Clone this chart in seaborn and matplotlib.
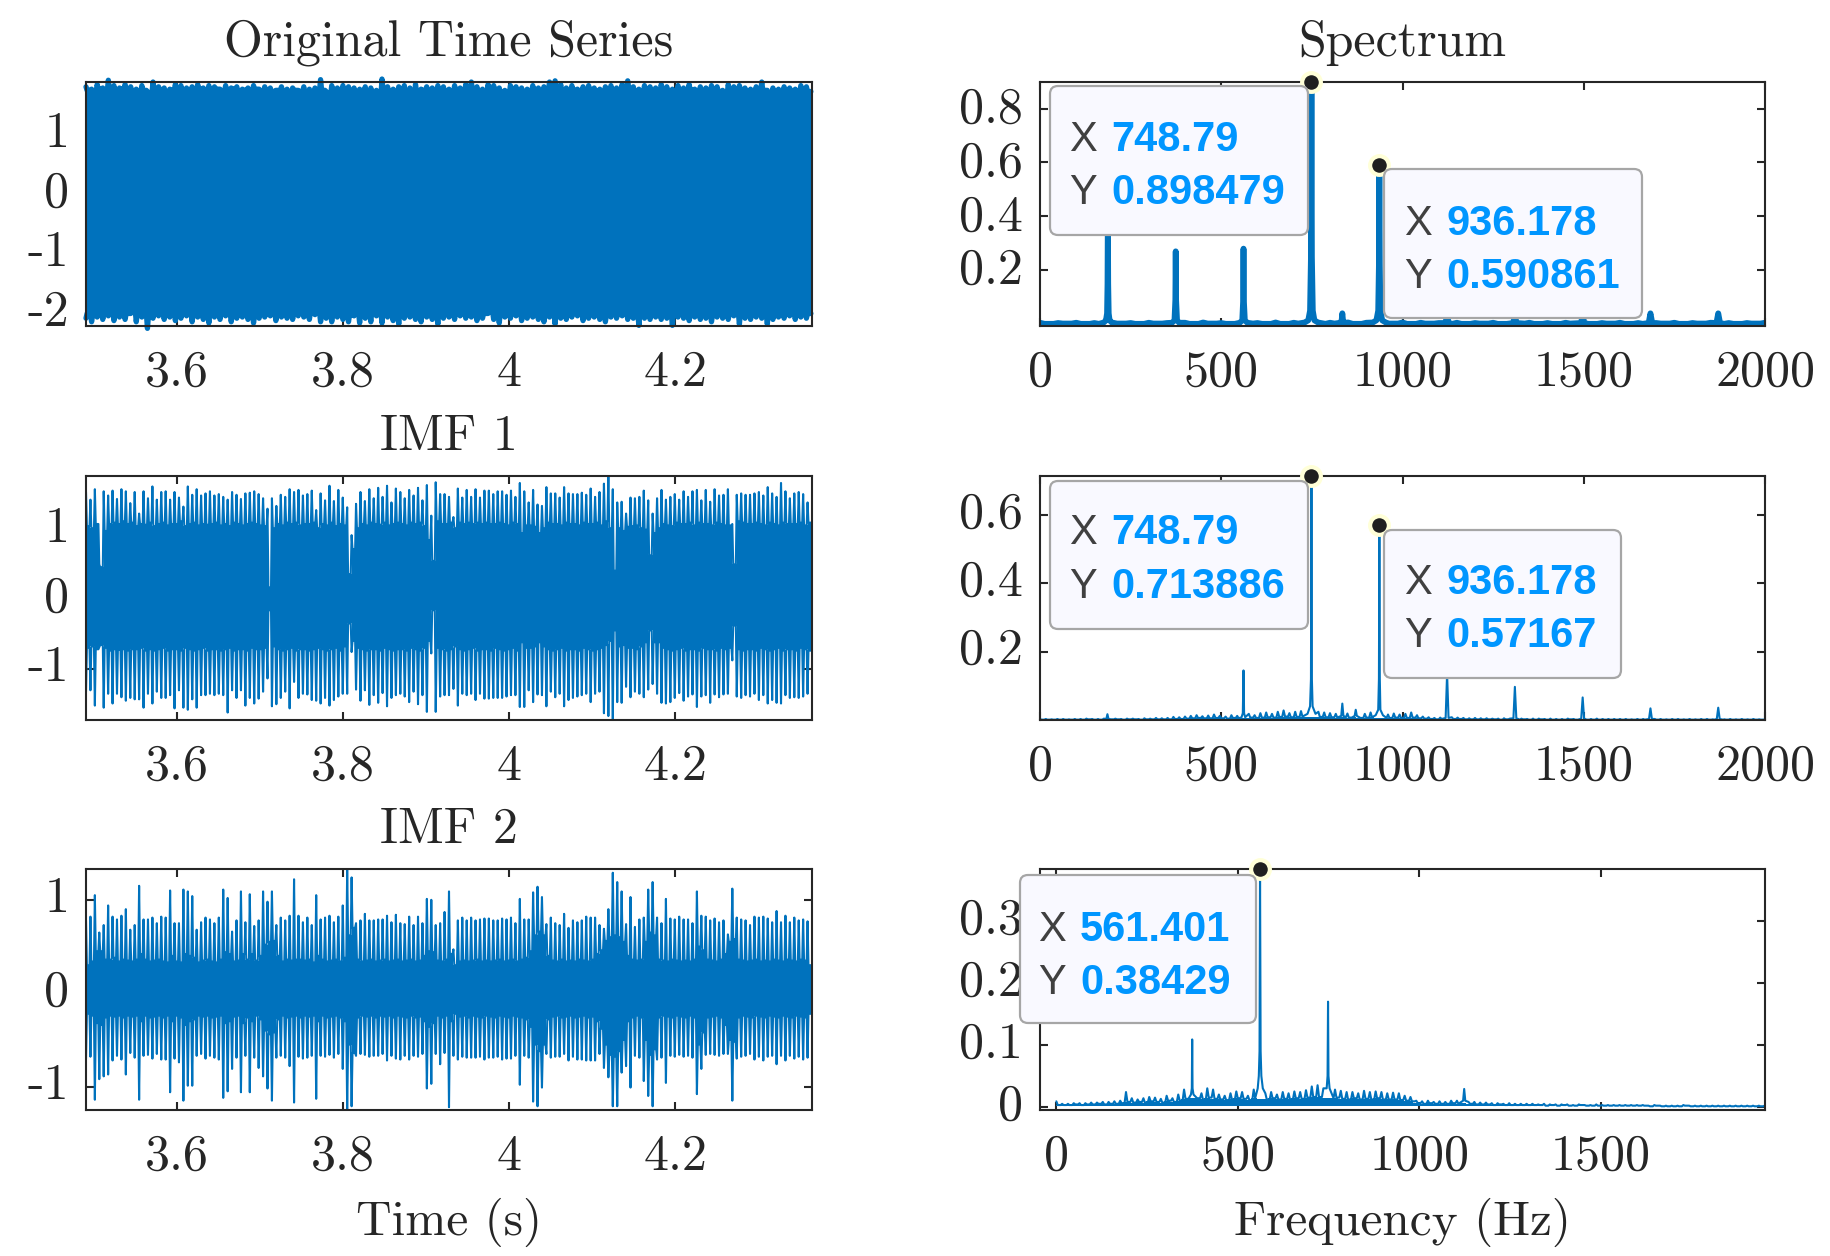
import numpy as np
import pandas as pd
import matplotlib
matplotlib.use('Agg')
import matplotlib.pyplot as plt
from matplotlib.patches import FancyBboxPatch
from matplotlib.transforms import IdentityTransform, ScaledTranslation
import seaborn as sns

W, H = 1830, 1256
BLUE = '#0072BD'
DARK = '#262626'

# ---- time domain, values read per impact off the picture ----
orig_top = [1.76,1.72,1.80,1.74,1.87,1.78,1.74,1.80,1.76,1.72,1.78,1.68,1.84,1.76,1.74,1.72,1.80,1.78,1.74,1.76,
            1.80,1.74,1.78,1.76,1.72,1.78,1.74,1.76,1.72,1.74,1.78,1.72,1.76,1.74,1.70,1.76,1.72,1.74,1.70,1.76,
            1.72,1.74,1.88,1.68,1.78,1.74,1.78,1.76,1.74,1.72,1.76,1.74,1.70,1.89,1.76,1.72,1.76,1.78,1.74,1.80,
            1.72,1.76,1.74,1.78,1.76,1.72,1.78,1.74,1.80,1.84,1.76,1.72,1.80,1.78,1.74,1.70,1.78,1.76,1.74,1.72,
            1.78,1.74,1.76,1.84,1.86,1.80,1.74,1.78,1.72,1.76,1.78,1.74,1.72,1.76,1.78,1.74,1.80,1.86,1.76,1.72,
            1.78,1.76,1.74,1.80,1.76,1.72,1.78,1.74,1.80,1.72,1.76,1.74,1.78,1.76,1.70,1.80,1.76,1.78,1.74,1.72,
            1.76,1.84,1.70,1.74,1.72,1.76,1.74,1.72,1.78,1.76]
orig_bot = [-2.12,-2.18,-2.10,-2.14,-2.08,-2.16,-2.10,-2.14,-2.04,-2.18,-2.10,-2.29,-2.12,-2.08,-2.14,-2.10,-2.16,-2.12,-2.08,-2.18,
            -2.10,-2.14,-2.20,-2.10,-2.14,-2.08,-2.18,-2.12,-2.10,-2.14,-2.20,-2.12,-2.10,-2.08,-2.16,-2.10,-2.12,-2.14,-2.08,-2.10,
            -2.14,-2.06,-2.18,-2.12,-2.18,-2.10,-2.14,-2.18,-2.08,-2.20,-2.12,-2.18,-2.08,-2.20,-2.10,-2.16,-2.22,-2.12,-2.10,-2.14,
            -2.18,-2.10,-2.14,-2.22,-2.12,-2.10,-2.14,-2.08,-2.12,-2.10,-2.16,-2.12,-2.04,-2.14,-2.20,-2.10,-2.12,-2.08,-2.16,-2.12,
            -2.10,-2.14,-2.18,-2.10,-2.22,-2.12,-2.14,-2.10,-2.08,-2.16,-2.12,-2.10,-2.14,-2.18,-2.10,-2.12,-2.08,-2.14,-2.12,-2.24,
            -2.12,-2.14,-2.10,-2.14,-2.12,-2.24,-2.10,-2.12,-2.16,-2.10,-2.14,-2.12,-2.18,-2.10,-2.12,-2.14,-2.08,-2.22,-2.12,-2.14,
            -2.10,-2.12,-2.22,-2.14,-2.10,-2.12,-2.08,-2.14,-2.10,-2.12]
orig_core_hi = [1.70,1.66,1.72,1.68,1.70,1.66,1.72,1.70,1.68,1.64,1.70,1.64,1.72,1.70,1.66,1.70,1.72,1.68,1.70,1.68,
                1.72,1.68,1.70,1.72,1.68,1.70,1.72,1.68,1.70,1.68,1.72,1.68,1.70,1.68,1.70,1.68,1.66,1.70,1.68,1.60,
                1.64,1.68,1.70,1.62,1.70,1.68,1.70,1.68,1.66,1.68,1.62,1.66,1.60,1.70,1.68,1.66,1.70,1.62,1.60,1.68,
                1.70,1.68,1.66,1.70,1.68,1.66,1.70,1.68,1.64,1.70,1.66,1.62,1.68,1.70,1.66,1.64,1.70,1.68,1.66,1.68,
                1.70,1.68,1.70,1.72,1.70,1.68,1.66,1.70,1.68,1.66,1.70,1.68,1.66,1.70,1.68,1.66,1.70,1.72,1.68,1.66,
                1.70,1.68,1.66,1.70,1.68,1.66,1.70,1.68,1.70,1.66,1.68,1.66,1.70,1.68,1.62,1.70,1.68,1.70,1.68,1.66,
                1.68,1.70,1.62,1.68,1.66,1.70,1.68,1.66,1.70,1.68]
orig_core_lo = [-2.04,-2.06,-2.02,-2.04,-2.00,-2.06,-2.02,-2.04,-1.98,-2.04,-2.02,-2.06,-2.04,-2.02,-2.04,-2.02,-2.06,-2.04,-2.02,-2.04,
                -2.02,-2.04,-2.00,-2.02,-2.04,-2.02,-2.06,-2.04,-2.02,-2.04,-2.06,-2.02,-2.04,-2.02,-2.06,-2.04,-2.02,-2.04,-2.02,-2.04,
                -2.02,-2.00,-2.06,-2.04,-2.06,-2.02,-2.04,-2.06,-2.02,-2.00,-2.04,-1.98,-2.02,-1.98,-2.04,-2.00,-1.98,-2.02,-2.04,-2.02,
                -2.00,-2.02,-2.04,-1.98,-2.02,-2.04,-2.02,-2.02,-2.04,-2.02,-2.06,-2.04,-2.00,-2.04,-2.00,-2.04,-2.02,-2.02,-2.06,-2.04,
                -2.02,-2.04,-2.06,-2.02,-1.98,-2.02,-2.04,-2.02,-2.02,-2.06,-2.04,-2.02,-2.04,-2.06,-2.02,-2.04,-2.02,-2.04,-2.04,-2.00,
                -2.04,-2.04,-2.02,-2.04,-2.04,-2.00,-2.02,-2.04,-2.06,-2.02,-2.04,-2.04,-2.06,-2.02,-2.04,-2.04,-2.02,-2.00,-2.04,-2.04,
                -2.02,-2.04,-2.00,-2.04,-2.02,-2.04,-2.02,-2.04,-2.02,-2.04]

imf1_top = [1.54,1.43,1.58,.50,1.55,1.49,1.56,1.44,1.58,1.55,
            1.38,1.54,1.23,1.55,1.45,1.62,1.43,1.54,1.55,1.43,
            1.54,1.46,1.33,1.62,1.50,1.58,1.49,1.52,1.55,1.49,
            1.51,1.47,1.43,1.54,1.50,1.44,1.52,1.53,1.55,1.51,
            1.45,1.30,1.45,1.34,1.50,1.47,1.58,1.54,1.57,1.49,
            1.51,1.56,1.28,1.52,1.42,1.63,1.41,1.57,1.46,1.32,
            .92,1.37,1.54,1.41,1.58,1.45,1.60,1.47,1.63,1.39,
            1.59,1.54,1.45,1.57,1.49,1.60,1.42,1.64,1.20,1.68,
            1.51,1.51,
            1.47,1.18,1.59,1.46,1.57,1.47,1.58,1.46,1.56,1.56,
            1.51,1.55,1.55,1.50,1.56,1.47,1.67,1.55,1.39,1.57,
            1.36,1.34,1.61,1.52,1.52,1.46,1.61,1.52,1.51,1.51,
            1.53,1.50,1.59,1.47,1.54,1.66,1.78,1.58,1.39,1.40,
            1.23,1.46,1.45,1.47,1.56,1.42,1.23,1.45,1.57,1.43,
            1.47,1.51,1.43,1.55,1.47,1.55,1.57,1.42,1.57,1.40,
            1.58,1.49,1.50,1.58,1.08,1.50,1.52,1.50,1.50,1.52,
            1.54,1.49,1.61,1.52,1.47,1.67,1.55,1.45,1.52,1.54,
            1.51,1.39]
imf1_bot = [-1.33,-1.31,-1.53,-.69,-1.56,-1.36,-1.50,-1.36,-1.41,-1.46,
            -1.42,-1.44,-1.44,-1.56,-1.36,-1.50,-1.33,-1.42,-1.42,-1.38,
            -1.57,-1.31,-1.56,-1.59,-1.44,-1.56,-1.38,-1.38,-1.36,-1.38,
            -1.36,-1.38,-1.63,-1.31,-1.42,-1.31,-1.53,-1.42,-1.50,-1.43,
            -1.33,-1.14,-1.54,-1.51,-1.42,-1.33,-1.57,-1.19,-1.42,-1.36,
            -1.37,-1.45,-1.46,-1.50,-1.42,-1.53,-1.45,-1.40,-1.36,-1.36,
            -.76,-1.30,-1.46,-1.31,-1.52,-1.38,-1.49,-1.35,-1.54,-1.42,
            -1.38,-1.36,-1.40,-1.48,-1.33,-1.51,-1.38,-1.62,-.78,-1.62,
            -1.40,-1.38,
            -1.38,-1.29,-1.53,-1.36,-1.38,-1.36,-1.45,-1.36,-1.43,-1.43,
            -1.42,-1.42,-1.42,-1.40,-1.38,-1.38,-1.55,-1.55,-1.31,-1.48,
            -1.37,-1.38,-1.54,-1.33,-1.41,-1.36,-1.54,-1.45,-1.42,-1.40,
            -1.38,-1.36,-1.48,-1.36,-1.33,-1.64,-1.68,-1.74,-1.48,-1.49,
            -1.26,-1.41,-1.33,-1.36,-1.41,-1.30,-1.22,-1.36,-1.49,-1.50,
            -1.48,-1.42,-1.35,-1.46,-1.40,-1.37,-1.55,-1.40,-1.38,-1.49,
            -1.37,-1.41,-1.37,-1.36,-.88,-1.40,-1.42,-1.38,-1.40,-1.36,
            -1.45,-1.38,-1.50,-1.45,-1.49,-1.50,-1.38,-1.42,-1.41,-1.42,
            -1.40,-1.36]
imf1_core_hi = [1.05,1.02,1.08,.46,.98,1.08,1.10,1.08,1.12,1.08,1.10,1.05,1.08,1.07,1.10,1.05,1.08,1.10,1.06,1.08,
                1.08,1.12,1.05,1.08,1.10,1.06,1.08,1.07,1.08,1.10,1.06,1.08,1.05,1.10,1.08,1.06,1.08,1.10,1.08,1.06,
                1.05,.17,1.02,1.08,1.06,1.10,1.08,1.10,1.06,1.08,1.08,1.10,1.02,1.08,1.06,1.10,1.05,1.08,1.06,.36,
                .72,1.02,1.08,1.06,1.10,1.08,1.07,1.10,1.06,1.08,1.10,1.08,1.06,1.10,1.08,1.10,1.05,.85,.55,1.12,
                1.08,1.08,1.10,1.02,1.10,1.08,1.10,1.08,1.10,1.08,1.10,1.08,1.08,1.10,1.08,1.06,1.10,1.08,.95,1.06,
                1.06,1.04,.95,1.02,1.10,1.08,1.08,1.06,1.10,1.08,1.08,1.06,1.10,1.08,1.08,1.10,1.06,1.12,1.02,.41,
                1.02,.98,1.04,1.05,1.06,1.02,1.00,.63,.95,1.02,1.08,1.06,1.05,1.10,1.08,1.08,1.10,1.06,1.10,1.08,
                1.08,1.06,1.10,1.08,1.06,1.06,.50,1.12,1.10,1.08,1.08,1.10,1.08,1.06,1.10,1.08,1.06,1.10,1.08,1.08,
                1.08,1.10,1.06,1.10]
imf1_core_lo = [-.70,-.68,-.72,-.66,-.70,-.74,-.72,-.73,-.72,-.74,-.72,-.72,-.70,-.74,-.72,-.74,-.72,-.70,-.74,-.72,
                -.72,-.74,-.70,-.72,-.74,-.72,-.70,-.74,-.72,-.72,-.74,-.72,-.70,-.74,-.72,-.72,-.74,-.70,-.72,-.72,
                -.70,-.16,-.68,-.72,-.74,-.72,-.70,-.74,-.72,-.72,-.74,-.72,-.70,-.72,-.74,-.72,-.70,-.74,-.68,-.35,
                -.60,-.70,-.72,-.74,-.72,-.72,-.74,-.70,-.72,-.74,-.72,-.72,-.74,-.70,-.72,-.74,-.70,-.60,-.16,-.70,
                -.72,-.74,-.72,-.68,-.72,-.74,-.72,-.70,-.74,-.72,-.72,-.74,-.70,-.72,-.74,-.72,-.70,-.74,-.62,-.70,
                -.70,-.68,-.62,-.68,-.72,-.74,-.72,-.70,-.74,-.72,-.72,-.74,-.70,-.72,-.74,-.72,-.70,-.66,-.60,-.45,
                -.68,-.66,-.70,-.70,-.72,-.68,-.62,-.45,-.62,-.62,-.70,-.72,-.74,-.72,-.70,-.74,-.72,-.72,-.74,-.70,
                -.72,-.72,-.74,-.70,-.72,-.70,-.38,-.72,-.74,-.72,-.72,-.74,-.70,-.72,-.74,-.72,-.70,-.74,-.72,-.72,
                -.74,-.70,-.72,-.74]

imf2_top = [.78,.82,1.05,.65,.73,.94,.82,.79,.83,.90,
            .68,.73,1.15,.79,.79,.81,.75,.82,.81,1.10,
            .75,.75,1.11,1.09,1.04,.68,.76,.81,.79,.75,
            .81,1.11,1.02,.66,.78,1.09,.76,1.06,.72,.78,
            1.09,.98,1.09,.73,.81,.78,.83,1.22,.83,.76,
            .81,.73,1.05,.79,.81,.83,.76,.82,.94,1.34,
            1.24,.75,.78,.85,.78,.78,.79,.79,.83,.76,
            .84,.75,.74,.82,.73,.82,.75,1.01,1.00,.73,
            .75,.87,
            1.09,.47,.78,.81,.78,.81,.78,.79,.80,.80,
            .78,.78,.80,.79,.81,.75,1.01,.79,.79,1.08,
            1.14,1.03,.74,.81,.75,.73,.85,.70,.78,.76,
            .78,.82,.81,.81,.73,.69,.90,1.29,1.19,1.09,
            .74,1.03,.71,.79,.81,1.11,1.19,.81,.75,1.01,
            .80,.79,.82,.79,.79,.75,1.09,.83,.82,.78,
            .80,.76,.78,.63,1.12,.81,.79,.78,.73,.82,
            .81,.82,.80,.76,.88,.76,.83,.76,.81,.78,
            .79,.77]
imf2_bot = [-.70,-.68,-1.14,-.92,-.89,-.87,-.72,-.67,-.71,-.87,
            -.64,-.69,-1.14,-.67,-.66,-.70,-.65,-.71,-.71,-1.06,
            -.70,-.74,-1.15,-.99,-.99,-.67,-.65,-.70,-.67,-.69,
            -.71,-1.12,-1.05,-.81,-.69,-1.06,-.67,-1.06,-.69,-.80,
            -.89,-1.02,-1.15,-.69,-.67,-.69,-.78,-1.17,-.68,-.70,
            -.69,-.67,-1.13,-.67,-.68,-.66,-.69,-.65,-.81,-1.26,
            -1.21,-.67,-.65,-.66,-.68,-.67,-.67,-.65,-.72,-.67,
            -.70,-.71,-.67,-.71,-.67,-.68,-.65,-1.02,-.97,-.65,
            -.76,-.64,
            -1.22,-.67,-.71,-.68,-.69,-.69,-.69,-.68,-.71,-.69,
            -.69,-.68,-.71,-.70,-.70,-.67,-.98,-.67,-.69,-1.16,
            -1.21,-1.01,-.65,-.69,-.68,-.68,-.65,-.72,-.68,-.71,
            -.71,-.72,-.72,-.72,-.65,-.80,-.90,-1.21,-1.21,-.85,
            -.78,-1.01,-.67,-.69,-.94,-1.10,-1.21,-.71,-.69,-.96,
            -.67,-.68,-.66,-.68,-.67,-.69,-1.08,-.81,-.66,-.65,
            -.66,-.67,-.65,-.65,-1.15,-.70,-.68,-.67,-.65,-.71,
            -.68,-.72,-.68,-.67,-.76,-.67,-.72,-.67,-.70,-.68,
            -.71,-.69]
imf2_core_hi = [.30,.34,.45,.45,.36,.36,.38,.34,.36,.35,.34,.36,.42,.36,.34,.35,.36,.34,.33,.40,
                .34,.33,.42,.40,.38,.33,.35,.36,.34,.33,.36,.44,.42,.34,.35,.42,.36,.42,.35,.40,
                .52,.55,.56,.40,.34,.36,.35,.36,.36,.35,.36,.33,.40,.36,.34,.35,.36,.34,.38,.62,
                .70,.36,.34,.35,.36,.34,.35,.36,.34,.35,.36,.34,.35,.36,.34,.35,.40,.45,.44,.35,
                .34,.36,.42,.30,.34,.35,.34,.35,.36,.34,.35,.34,.35,.36,.34,.35,.36,.34,.36,.38,
                .45,.62,.66,.62,.40,.35,.34,.36,.34,.35,.34,.36,.35,.34,.36,.42,.46,.56,.60,.62,
                .60,.55,.40,.36,.35,.36,.55,.65,.62,.36,.35,.34,.36,.35,.34,.35,.34,.36,.50,.46,
                .36,.35,.34,.36,.42,.55,.58,.36,.35,.34,.35,.36,.34,.35,.34,.36,.35,.34,.36,.35,
                .34,.36,.35,.30]
imf2_core_lo = [-.22,-.24,-.32,-.34,-.26,-.24,-.25,-.24,-.26,-.24,-.25,-.24,-.30,-.24,-.26,-.25,-.24,-.26,-.24,-.30,
                -.24,-.26,-.34,-.30,-.28,-.24,-.25,-.24,-.26,-.25,-.24,-.32,-.30,-.25,-.24,-.32,-.26,-.30,-.24,-.28,
                -.40,-.44,-.42,-.28,-.24,-.26,-.25,-.24,-.26,-.24,-.25,-.24,-.30,-.24,-.26,-.25,-.24,-.26,-.30,-.55,
                -.64,-.26,-.24,-.25,-.24,-.26,-.24,-.25,-.24,-.26,-.24,-.25,-.26,-.24,-.26,-.25,-.30,-.36,-.32,-.24,
                -.26,-.24,-.30,-.22,-.25,-.24,-.26,-.24,-.25,-.26,-.24,-.25,-.26,-.24,-.25,-.26,-.24,-.25,-.26,-.28,
                -.36,-.55,-.62,-.55,-.28,-.25,-.24,-.26,-.25,-.24,-.26,-.25,-.24,-.26,-.25,-.30,-.38,-.55,-.66,-.68,
                -.62,-.50,-.30,-.26,-.24,-.26,-.50,-.66,-.60,-.26,-.24,-.25,-.26,-.24,-.25,-.26,-.24,-.26,-.55,-.42,
                -.26,-.25,-.24,-.26,-.34,-.50,-.52,-.26,-.24,-.25,-.26,-.24,-.25,-.26,-.24,-.25,-.26,-.24,-.25,-.26,
                -.24,-.25,-.26,-.22]

# ---- spectra: narrow peaks plus a noise floor ----
sp1_peak_f = [176,182,185,186.3,187.2,188.1,189.5,192,198, 364,371,373.4,374.4,375.4,378,384,
              551,558,560.5,561.4,562.3,565,572, 730,740,745,747.5,748.79,750,752.5,757,767,
              828,832,834,836,840, 918,928,933,935,936.18,937.4,939,944,954,
              1118,1123,1128, 1305,1310,1315, 1492,1497,1502, 1679,1684,1689, 1866,1871,1876]
sp1_peak_a = [.006,.014,.04,.15,.42,.15,.04,.014,.006, .005,.014,.09,.27,.09,.014,.005,
              .005,.014,.09,.28,.09,.014,.005, .006,.014,.05,.25,.8985,.25,.05,.014,.006,
              .005,.012,.04,.012,.005, .006,.014,.05,.22,.5909,.22,.05,.014,.006,
              .004,.03,.004, .004,.03,.004, .004,.03,.004, .004,.04,.004, .004,.04,.004]
sp1_floor = [.005,.004,.005,.004,.006,.004,.005,.004,.005,.006,.004,.005,.004,.006,.005,.004,.005,.006,.005,.004,
             .006,.005,.004,.005,.004,.005,.004,.005,.004,.005,.004,.004,.005,.004,.004,.005,.004,.005,.004,.004,.005]
sp1_floor_lo = [.001,.002,.001,.001,.002,.001,.002,.001,.001,.002,.001,.002,.001,.001,.002,.001,.002,.001,.001,.002,
                .001,.002,.001,.001,.002,.001,.002,.001,.001,.002,.001,.002,.001,.001,.002,.001,.002,.001,.001,.002,.001]

sp2_peak_f = [183,186,189, 556,559.5,561.4,563,566, 738,745,747.5,748.79,750,752,760,
              831,834,837, 868,871,874, 926,933,935,936.18,937.4,939,946,
              1119,1123,1127, 1306,1310,1314, 1493,1497,1501, 1680,1684,1688, 1867,1871,1875]
sp2_peak_a = [.003,.017,.003, .008,.02,.145,.02,.008, .018,.04,.12,.7139,.12,.04,.018,
              .012,.048,.012, .012,.03,.012, .014,.03,.12,.5717,.12,.03,.014,
              .006,.135,.006, .005,.097,.005, .004,.066,.004, .003,.034,.003, .003,.036,.003]
sp2_floor = [.003,.003,.002,.003,.003,.002,.003,.003,.004,.003,.003,.004,.008,.004,.003,.004,.004,.003,.005,.004,.006,.005,.006,.009,.008,
             .010,.012,.014,.011,.013,.016,.012,.010,.014,.012,.016,.018,.014,.020,.022,.018,.024,.028,.020,.024,.026,.022,.026,.024,.022,
             .020,.018,.022,.019,.020,.016,.018,.022,.020,.017,.016,.019,.016,.018,.022,.014,.010,.008,.006,.007,.006,.008,.007,.006,.005,
             .006,.005,.005,.004,.004,.005,.004,.004,.004,.003,.004,.004,.003,.004,.003,.003,.004,.003,.005,.003,.003,.004,.003,.003,.003,
             .003,.003,.002,.003,.003,.002,.003,.003,.002,.003,.003,.002,.003,.002,.003,.003,.002,.003,.002,.003,.002,.003,.002,.003,.002,.002]
sp2_floor_lo = [.001,.001,.001,.001,.001,.001,.001,.001,.002,.001,.001,.002,.002,.002,.001,.002,.002,.001,.002,.002,.002,.002,.002,.003,.003,
                .004,.005,.006,.005,.005,.006,.005,.004,.006,.005,.006,.007,.006,.007,.008,.007,.009,.010,.008,.009,.010,.008,.009,.009,.008,
                .008,.007,.008,.007,.008,.006,.007,.008,.007,.006,.006,.007,.006,.006,.007,.005,.004,.003,.002,.003,.002,.003,.003,.002,.002,
                .002,.002,.002,.002,.001,.002,.001,.001,.002,.001,.001,.002,.001,.001,.001,.001,.002,.001,.002,.001,.001,.001,.001,.001,.001,
                .001,.001,.001,.001,.001,.001,.001,.001,.001,.001,.001,.001,.001,.001,.001,.001,.001,.001,.001,.001,.001,.001,.001,.001,.001,.001]

sp3_peak_f = [371,373.4,374.4,375.4,378, 555,558,560,561.401,563,565,569, 745,747.5,748.8,750,753, 1121,1124,1127]
sp3_peak_a = [.02,.03,.109,.03,.02, .03,.05,.09,.38429,.09,.05,.03, .03,.05,.17,.05,.03, .01,.029,.01]
sp3_floor_hi = [.009,.005,.005,.006,.006,.006,.007,.007,.008,.008,.009,.010,
                .024,.014,.012,.014,.016,.015,.013,.018,.014,.020,
                .028,.030,.030,.022,.030,.028,.020,.018,.022,.025,.024,.018,
                .028,.026,.022,.024,.020,.024,.022,.025,.024,.027,.033,.035,
                .030,.028,.028,.026,.024,.024,.022,.026,.024,.025,.024,.022,
                .023,.022,.018,.016,.010,.009,.010,.008,.009,.008,.010,.010,
                .012,.008,.008,.007,.007,.006,.006,.005,.006,.005,.005,.005,
                .005,.004,.005,.004,.004,.004,.004,.003,.004,.003,.003,.004,
                .003,.003,.003,.003,.003,.003,.003,.003,.002,.003,.002,.002,
                .002,.002,.003,.002,.002,.002,.002,.002,.002,.002,.002,.002,
                .002,.002,.002,.002,.002]
sp3_floor_lo = [.003,.003,.003,.004,.003,.004,.004,.005,.004,.005,.005,.006,
                .008,.007,.008,.007,.009,.008,.007,.010,.008,.010,
                .013,.015,.014,.012,.015,.013,.012,.011,.012,.014,.013,.011,
                .014,.013,.012,.014,.012,.013,.012,.014,.013,.015,.016,.016,
                .015,.014,.015,.013,.012,.014,.012,.013,.012,.014,.012,.012,
                .012,.011,.010,.009,.006,.005,.006,.005,.005,.005,.006,.005,
                .006,.005,.004,.004,.004,.003,.004,.003,.003,.003,.003,.003,
                .003,.003,.002,.003,.002,.003,.002,.002,.003,.002,.002,.002,
                .002,.002,.002,.002,.002,.002,.002,.002,.001,.002,.001,.001,
                .001,.001,.002,.001,.001,.001,.001,.001,.001,.001,.001,.001,
                .001,.001,.001,.001,.001]
floor_base = .001

time_ticks = [3.6, 3.8, 4.0, 4.2]
time_labels = ['3.6', '3.8', '4', '4.2']
freq_ticks = [0, 500, 1000, 1500, 2000]
freq_labels = ['0', '500', '1000', '1500', '2000']
freq_labels3 = ['0', '500', '1000', '1500']

sns.set_theme(style='ticks', rc={'axes.edgecolor': DARK, 'axes.linewidth': 1.5,
                                 'xtick.direction': 'in', 'ytick.direction': 'in',
                                 'xtick.top': True, 'ytick.right': True,
                                 'xtick.major.size': 6, 'ytick.major.size': 6,
                                 'xtick.major.width': 1.5, 'ytick.major.width': 1.5,
                                 'xtick.color': DARK, 'ytick.color': DARK,
                                 'text.color': DARK, 'axes.labelcolor': DARK})
plt.rcParams['font.family'] = ['cmr10', 'DejaVu Serif']
plt.rcParams['axes.unicode_minus'] = False

fig = plt.figure(figsize=(W / 100, H / 100), dpi=100)


def new_axes(x0, x1, y0, y1):
    return fig.add_axes([x0 / W, 1 - y1 / H, (x1 - x0) / W, (y1 - y0) / H])


def finish(ax, xlim, ylim, xticks, xlabels, yticks, ylabels, title=None, xlabel=None, lift=3):
    ax.set_xlim(*xlim)
    ax.set_ylim(*ylim)
    ax.set_xticks(xticks, xlabels)
    ax.set_yticks(yticks, ylabels)
    ax.tick_params(axis='x', labelsize=36, pad=17.5)
    ax.tick_params(axis='y', labelsize=36, pad=12)
    ax.set_xlabel(xlabel or '', fontsize=35.5, labelpad=13)
    ax.set_ylabel('')
    offset = ScaledTranslation(0, lift / 100, fig.dpi_scale_trans)
    for lab in ax.get_yticklabels():
        lab.set_transform(lab.get_transform() + offset)
    if title:
        ax.set_title(title, fontsize=36, pad=19)
    for s in ax.spines.values():
        s.set_zorder(5)


def signal(ax, top, bot, hi, lo, xlim, lw, clip=True):
    # narrow spikes rise out of a solid core, one per impact
    n = len(top)
    t = np.linspace(xlim[0], xlim[1], n, endpoint=False)
    step = (xlim[1] - xlim[0]) / n
    tt = np.ravel(np.column_stack([t, t + .2 * step, t + .8 * step]))
    # core reaches both axis edges
    edge_t = np.r_[xlim[0], t + step / 2, xlim[1]]
    edge_lo = np.r_[lo[0], lo[:n], lo[n - 1]]
    edge_hi = np.r_[hi[0], hi[:n], hi[n - 1]]
    ax.fill_between(edge_t, edge_lo, edge_hi, step='mid', color=BLUE, lw=0, clip_on=clip)
    for peak, core in ((top, hi), (bot, lo)):
        yy = np.ravel(np.column_stack([peak[:n], core[:n], core[:n]]))
        df = pd.DataFrame({'t': tt, 'y': yy})
        sns.lineplot(data=df, x='t', y='y', estimator=None, sort=False, color=BLUE,
                     lw=lw, ax=ax, legend=False, clip_on=clip)


def spectrum(ax, floor_f, floor_hi, floor_lo, peak_f, peak_a, lw):
    ax.fill_between(floor_f, floor_base, floor_lo, step='mid', color=BLUE, lw=0)
    step = floor_f[1] - floor_f[0]
    ff = np.ravel(np.column_stack([floor_f, floor_f + .25 * step, floor_f + .75 * step]))
    aa = np.ravel(np.column_stack([floor_hi, floor_lo, floor_lo]))
    # floor points under a peak would cut it, so keep only those away from it
    keep = np.min(np.abs(ff[:, None] - np.array(peak_f)[None, :]), axis=1) > 6
    df = pd.DataFrame({'f': np.r_[ff[keep], peak_f], 'a': np.r_[aa[keep], peak_a]}).sort_values('f')
    sns.lineplot(data=df, x='f', y='a', estimator=None, sort=False, color=BLUE, lw=lw, ax=ax, legend=False)


def tip(ax, px, py, box, x_txt, y_txt, sx, sy, val_x):
    ax.plot([px], [py], 'o', ms=13.5, mfc='#1f1f1f', mec='#FFFFD8', mew=3, clip_on=False, zorder=10)
    x0, x1, y0, y1 = box
    patch = FancyBboxPatch((x0, H - y1), x1 - x0, y1 - y0, boxstyle='round,pad=0,rounding_size=8',
                           fc='#F9F9FF', ec='#A6A6A6', lw=1.6, transform=IdentityTransform(), zorder=20)
    fig.add_artist(patch)
    for label, value, yy in (('X', x_txt, sy[0]), ('Y', y_txt, sy[1])):
        fig.text(sx / W, 1 - yy / H, label, fontsize=30, family='Liberation Sans', color='#404040',
                 va='center', ha='left', zorder=21)
        fig.text(val_x / W, 1 - yy / H, value, fontsize=30, family='Liberation Sans', weight='bold',
                 color='#0096FF', va='center', ha='left', zorder=21)


TIME = (3.4908, 4.3645)
LX0, LX1, RX0, RX1 = 86, 812, 1040, 1765

ax = new_axes(LX0, LX1, 82, 326)
signal(ax, orig_top, orig_bot, orig_core_hi, orig_core_lo, TIME, 3.8, clip=False)
finish(ax, TIME, (-2.25, 1.84), time_ticks, time_labels, [-2, -1, 0, 1], ['-2', '-1', '0', '1'], 'Original Time Series')

ax = new_axes(LX0, LX1, 476, 720)
signal(ax, imf1_top, imf1_bot, imf1_core_hi, imf1_core_lo, TIME, 1.5)
finish(ax, TIME, (-1.737, 1.77), time_ticks, time_labels, [-1, 0, 1], ['-1', '0', '1'], 'IMF 1', lift=5.5)

ax = new_axes(LX0, LX1, 869, 1110)
signal(ax, imf2_top, imf2_bot, imf2_core_hi, imf2_core_lo, TIME, 1.5)
finish(ax, TIME, (-1.25, 1.33), time_ticks, time_labels, [-1, 0, 1], ['-1', '0', '1'], 'IMF 2', 'Time (s)', lift=5.5)

ax = new_axes(RX0, RX1, 82, 326)
spectrum(ax, np.linspace(0, 2000, len(sp1_floor)), sp1_floor, sp1_floor_lo, sp1_peak_f, sp1_peak_a, 4.2)
finish(ax, (0, 2000), (-.007, .8985), freq_ticks, freq_labels, [.2, .4, .6, .8], ['0.2', '0.4', '0.6', '0.8'], 'Spectrum', lift=4)
tip(ax, 748.79, .8985, (1050, 1308, 86, 235), '748.79', '0.898479', 1069, (140, 193), 1111)
tip(ax, 936.178, .590861, (1384, 1642, 169, 318), '936.178', '0.590861', 1404, (224, 277), 1446)

ax = new_axes(RX0, RX1, 476, 720)
spectrum(ax, np.linspace(0, 2000, len(sp2_floor)), sp2_floor, sp2_floor_lo, sp2_peak_f, sp2_peak_a, 1.5)
finish(ax, (0, 2000), (0, .7139), freq_ticks, freq_labels, [.2, .4, .6], ['0.2', '0.4', '0.6'], lift=5.5)
tip(ax, 748.79, .7139, (1050, 1308, 481, 629), '748.79', '0.713886', 1069, (533, 587), 1111)
tip(ax, 936.178, .57167, (1384, 1621, 530, 678), '936.178', '0.57167', 1404, (583, 636), 1446)

ax = new_axes(RX0, RX1, 869, 1110)
spectrum(ax, np.linspace(0, 1952, len(sp3_floor_hi)), sp3_floor_hi, sp3_floor_lo, sp3_peak_f, sp3_peak_a, 1.5)
finish(ax, (-45, 1953), (-.005, .3843), freq_ticks[:4], freq_labels3, [0, .1, .2, .3], ['0', '0.1', '0.2', '0.3'], None, 'Frequency (Hz)', lift=5)
tip(ax, 561.401, .3843, (1020, 1256, 875, 1023), '561.401', '0.38429', 1038, (930, 983), 1080)

fig.savefig('out.png', dpi=100)
